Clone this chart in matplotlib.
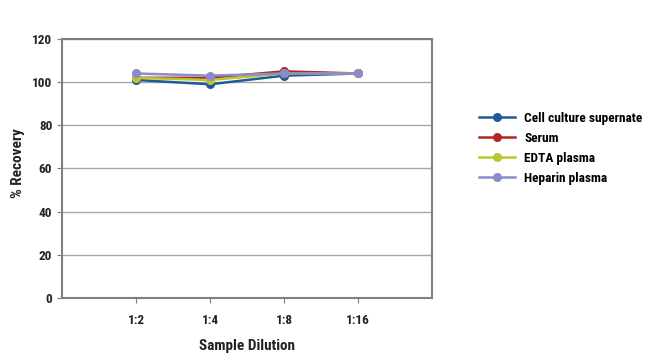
import matplotlib.pyplot as plt
import numpy as np

plt.rcParams["font.family"] = ["Roboto Condensed", "Roboto", "DejaVu Sans"]
plt.rcParams["font.weight"] = "bold"
plt.rcParams["axes.labelweight"] = "bold"

dilutions = ["1:2", "1:4", "1:8", "1:16"]
cell_culture = [101, 99, 103, 104]
serum = [102, 102, 105, 104]
edta = [102, 101, 104, 104]
heparin = [104, 103, 104, 104]

series = [
    ("Cell culture supernate", cell_culture, "#1f5b99"),
    ("Serum", serum, "#b3262a"),
    ("EDTA plasma", edta, "#b8c72e"),
    ("Heparin plasma", heparin, "#8a8ccc"),
]

fig = plt.figure(figsize=(6.5, 3.61), dpi=100)
ax = fig.add_axes([0.0955, 0.175, 0.569, 0.717])

x = np.arange(1, len(dilutions) + 1)
for name, vals, col in series:
    ax.plot(x, vals, "-o", color=col, label=name, linewidth=1.8, markersize=5.5)

ax.set_xlim(0, 5)
ax.set_ylim(0, 120)
ax.set_xticks(x)
ax.set_xticklabels(dilutions)
ax.set_yticks(range(0, 121, 20))
ax.yaxis.grid(True, color="#a6a6a6", linewidth=1)
ax.set_axisbelow(True)
for s in ax.spines.values():
    s.set_color("#7f7f7f")
    s.set_linewidth(1.5)
ax.tick_params(axis="both", colors="#7f7f7f", labelcolor="#222222", labelsize=9.5, length=3.5)
ax.tick_params(axis="x", pad=8)
ax.tick_params(axis="y", pad=3.5)

ax.set_xlabel("Sample Dilution", fontsize=11, color="#222222", labelpad=9)
ax.set_ylabel("% Recovery", fontsize=11, color="#222222")
ax.yaxis.set_label_coords(-0.1, 0.52)

ax.legend(loc="center left", bbox_to_anchor=(1.095, 0.578), frameon=False,
          fontsize=9.6, handlelength=2.7, handletextpad=0.7, labelspacing=0.53)

fig.savefig("out.png", dpi=100)
